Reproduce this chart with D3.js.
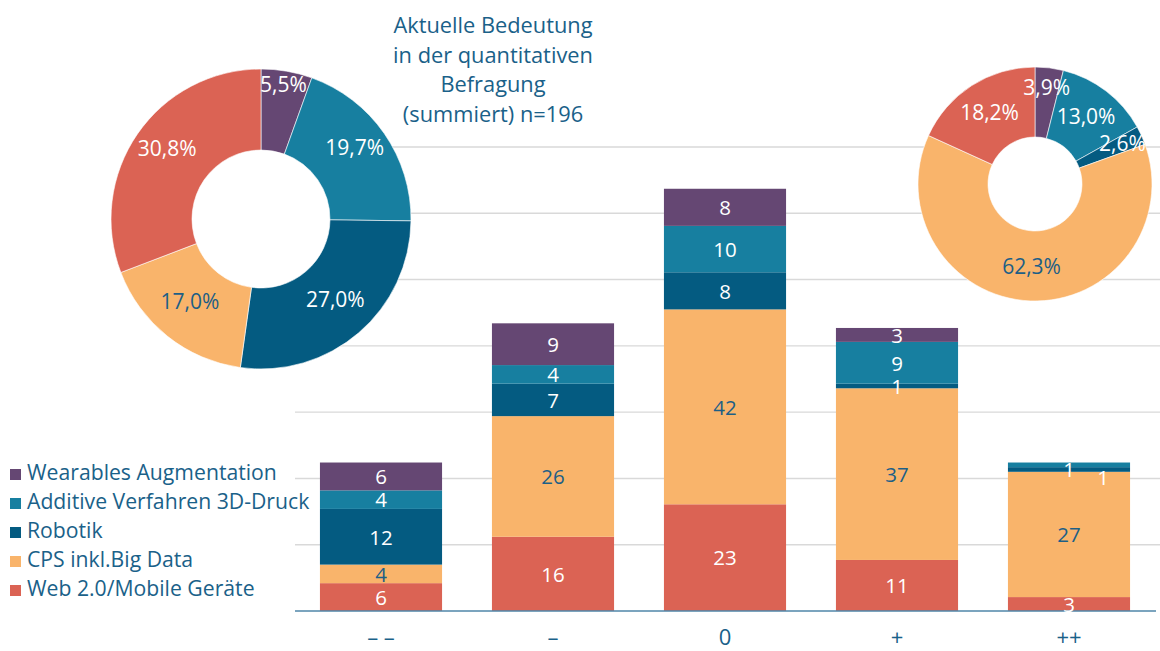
<!DOCTYPE html>
<html>
<head>
<meta charset="utf-8">
<script src="https://cdn.jsdelivr.net/npm/d3@7"></script>
<style>
  html, body { margin: 0; padding: 0; background: #fff; }
  svg { display: block; font-family: "Open Sans", sans-serif; }
</style>
</head>
<body>
<svg id="chart" width="1160" height="651"></svg>
<script>
// ---- data ----
const categories = ["\u2013 \u2013", "\u2013", "0", "+", "++"];
const seriesNames = ["Wearables Augmentation", "Additive Verfahren 3D-Druck", "Robotik", "CPS inkl.Big Data", "Web 2.0/Mobile Geräte"];
const wearables = [6, 9, 8, 3, 0];
const additive  = [4, 4, 10, 9, 1];
const robotik   = [12, 7, 8, 1, 1];
const cps       = [4, 26, 42, 37, 27];
const web       = [6, 16, 23, 11, 3];
const leftPie   = [5.5, 19.7, 27.0, 17.0, 30.8];   // wearables, additive, robotik, cps, web
const rightPie  = [3.9, 13.0, 2.6, 62.3, 18.2];
const titleLines = ["Aktuelle Bedeutung", "in der quantitativen", "Befragung", "(summiert) n=196"];
const yMax = 100;
const gridCount = 7;

// ---- styles ----
const colors = {
  "Wearables Augmentation": "#654773",
  "Additive Verfahren 3D-Druck": "#177fa0",
  "Robotik": "#045b81",
  "CPS inkl.Big Data": "#f9b46b",
  "Web 2.0/Mobile Geräte": "#db6354"
};
const textBlue = "#1a6189";
const labelOn = name => name === "CPS inkl.Big Data" ? "#1d5f86" : "#ffffff";

const svg = d3.select("#chart");

// ---- scales ----
const x = d3.scaleBand().domain(categories).range([295, 1155]).paddingInner(0.29).paddingOuter(0.145);
const y = d3.scaleLinear().domain([0, yMax]).range([611, 147]);

// gridlines
const gridVals = d3.range(1, gridCount + 1).map(i => i * yMax / gridCount);
svg.append("g").selectAll("line").data(gridVals).join("line")
  .attr("x1", 295).attr("x2", 1160)
  .attr("y1", d => y(d)).attr("y2", d => y(d))
  .attr("stroke", "#d9d9d9").attr("stroke-width", 1.4);

// ---- stacked bars ----
const rows = categories.map((c, i) => ({
  cat: c,
  "Wearables Augmentation": wearables[i],
  "Additive Verfahren 3D-Druck": additive[i],
  "Robotik": robotik[i],
  "CPS inkl.Big Data": cps[i],
  "Web 2.0/Mobile Geräte": web[i]
}));
const stackKeys = seriesNames.slice().reverse(); // bottom -> top
const stacked = d3.stack().keys(stackKeys)(rows);

const barG = svg.append("g");
stacked.forEach(layer => {
  barG.append("g").selectAll("rect").data(layer).join("rect")
    .attr("x", d => x(d.data.cat))
    .attr("width", x.bandwidth())
    .attr("y", d => y(d[1]))
    .attr("height", d => y(d[0]) - y(d[1]))
    .attr("fill", colors[layer.key]);
});

// baseline
svg.append("line").attr("x1", 295).attr("x2", 1156)
  .attr("y1", y(0)).attr("y2", y(0))
  .attr("stroke", "#4f86a8").attr("stroke-width", 1.5);

// bar labels with simple collision avoidance
const labelG = svg.append("g").attr("font-size", 20.5).attr("text-anchor", "middle");
categories.forEach((c, ci) => {
  let prevY = null;
  stacked.forEach(layer => {
    const d = layer[ci];
    const v = d[1] - d[0];
    if (v <= 0) return;
    let cx = x(c) + x.bandwidth() / 2;
    let cy = (y(d[0]) + y(d[1])) / 2;
    if (prevY !== null && Math.abs(prevY - cy) < 12) { cx += 34; cy += 12; }
    else prevY = cy;
    labelG.append("text")
      .attr("x", cx).attr("y", cy).attr("dy", "0.38em")
      .attr("fill", labelOn(layer.key))
      .text(v);
  });
});

// x axis labels
svg.append("g").selectAll("text").data(categories).join("text")
  .attr("x", d => x(d) + x.bandwidth() / 2)
  .attr("y", 645)
  .attr("text-anchor", "middle")
  .attr("font-size", 22)
  .attr("fill", textBlue)
  .text(d => d);

// ---- donuts ----
function donut(values, cx, cy, R, r, labelR, smallLabelR, dy) {
  const g = svg.append("g").attr("transform", `translate(${cx},${cy})`);
  g.append("circle").attr("r", R).attr("fill", "#fff");
  const pie = d3.pie().sort(null).value(d => d.v);
  const data = pie(values.map((v, i) => ({ v, name: seriesNames[i] })));
  const arc = d3.arc().innerRadius(r).outerRadius(R);
  g.selectAll("path").data(data).join("path")
    .attr("d", arc)
    .attr("fill", d => colors[d.data.name])
    .attr("stroke", "#fff").attr("stroke-width", 0.6);
  g.selectAll("text").data(data).join("text")
    .attr("transform", d => {
      const a = (d.startAngle + d.endAngle) / 2;
      const lr = d.data.v < 6 ? smallLabelR : labelR;
      return `translate(${lr * Math.sin(a)},${-lr * Math.cos(a)})`;
    })
    .attr("dy", dy)
    .attr("text-anchor", "middle")
    .attr("font-size", 21)
    .attr("fill", d => labelOn(d.data.name))
    .text(d => d.data.v.toFixed(1).replace(".", ",") + "%");
}
donut(leftPie, 261, 219, 150, 69, 114, 130, "0.06em");
donut(rightPie, 1035, 184, 117, 47, 84, 96, "0.3em");

// ---- title ----
svg.append("g").selectAll("text").data(titleLines).join("text")
  .attr("x", 493)
  .attr("y", (d, i) => 33 + i * 29.5)
  .attr("text-anchor", "middle")
  .attr("font-size", 21.8)
  .attr("fill", textBlue)
  .text(d => d);

// ---- legend ----
const leg = svg.append("g").selectAll("g").data(seriesNames).join("g")
  .attr("transform", (d, i) => `translate(10,${480 + i * 29})`);
leg.append("rect").attr("x", 0).attr("y", -11).attr("width", 11).attr("height", 11)
  .attr("fill", d => colors[d]);
leg.append("text").attr("x", 17).attr("y", 0)
  .attr("font-size", 21.2).attr("fill", textBlue)
  .text(d => d);
</script>
</body>
</html>
